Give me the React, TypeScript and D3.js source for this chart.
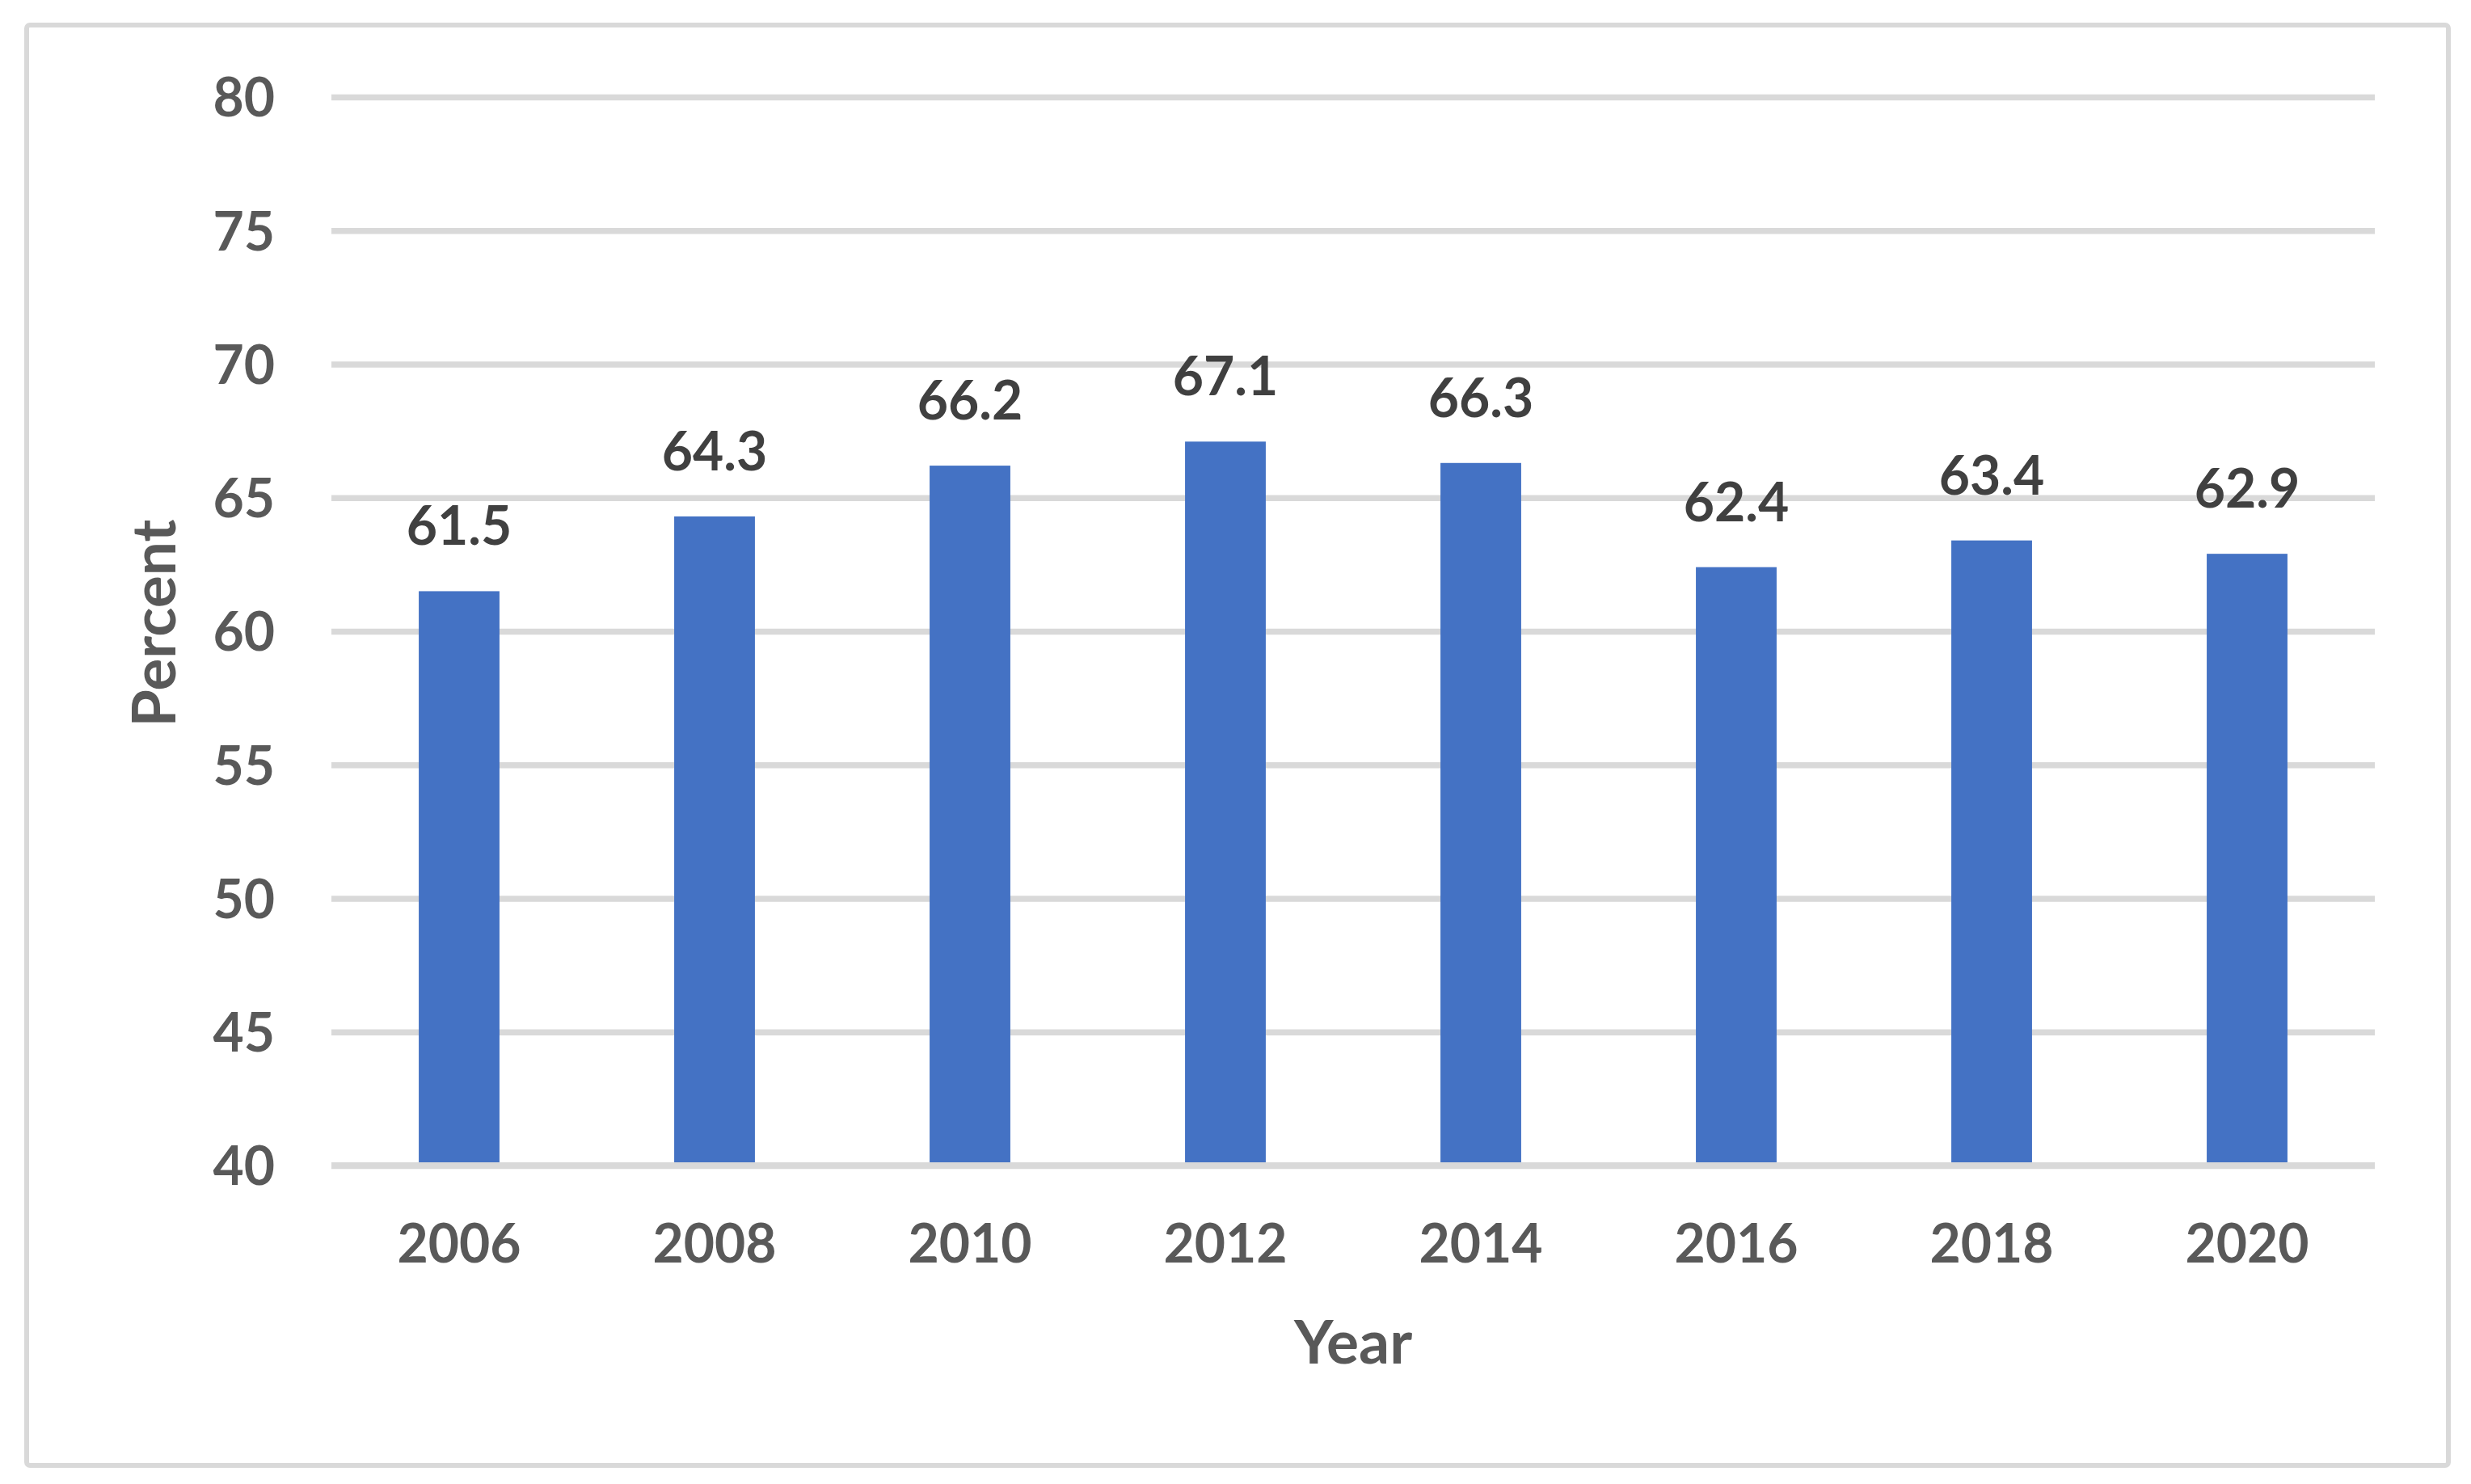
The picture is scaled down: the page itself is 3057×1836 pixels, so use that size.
import { useEffect, useRef } from 'react'
import * as d3 from 'd3'

const years = ['2006', '2008', '2010', '2012', '2014', '2016', '2018', '2020']
const percent = [61.5, 64.3, 66.2, 67.1, 66.3, 62.4, 63.4, 62.9]
const yTicks = [40, 45, 50, 55, 60, 65, 70, 75, 80]

export default function App() {
  const ref = useRef<SVGSVGElement | null>(null)
  useEffect(() => {
    if (!ref.current) return
    const svg = d3.select(ref.current)
    svg.selectAll('*').remove()
    const width = 3057
    const height = 1836
    const margin = { top: 120, right: 119, bottom: 394, left: 410 }
    const font = 'Lato, "Open Sans", sans-serif'

    svg.append('rect').attr('width', width).attr('height', height).attr('fill', '#fff')
    svg
      .append('rect')
      .attr('x', 33)
      .attr('y', 31)
      .attr('width', 2996)
      .attr('height', 1782)
      .attr('rx', 4)
      .attr('fill', 'none')
      .attr('stroke', '#d9d9d9')
      .attr('stroke-width', 6)

    const x = d3
      .scaleBand()
      .domain(years)
      .range([margin.left, width - margin.right])
      .paddingInner(0.684)
      .paddingOuter(0.342)
    const y = d3
      .scaleLinear()
      .domain([40, 80])
      .range([height - margin.bottom, margin.top])

    // y axis with gridlines
    const yAxis = svg
      .append('g')
      .attr('transform', `translate(${margin.left},0)`)
      .call(
        d3
          .axisLeft(y)
          .tickValues(yTicks)
          .tickSize(-(width - margin.left - margin.right))
          .tickPadding(70)
      )
    yAxis.select('.domain').remove()
    yAxis.selectAll('line').attr('stroke', '#d9d9d9').attr('stroke-width', 7.5)
    yAxis
      .selectAll('text')
      .attr('dy', '0.36em')
      .attr('fill', '#595959')
      .style('font-family', font)
      .style('font-weight', 700)
      .style('font-size', '66px')

    svg
      .append('g')
      .selectAll('rect')
      .data(percent)
      .enter()
      .append('rect')
      .attr('x', (_, i) => x(years[i])!)
      .attr('y', (d) => y(d))
      .attr('width', x.bandwidth())
      .attr('height', (d) => y(40) - y(d))
      .attr('fill', '#4472c4')

    // baseline on top of the bars
    svg
      .append('line')
      .attr('x1', margin.left)
      .attr('x2', width - margin.right)
      .attr('y1', y(40))
      .attr('y2', y(40))
      .attr('stroke', '#d9d9d9')
      .attr('stroke-width', 8)

    svg
      .append('g')
      .selectAll('text')
      .data(percent)
      .enter()
      .append('text')
      .attr('x', (_, i) => x(years[i])! + x.bandwidth() / 2)
      .attr('y', (d) => y(d) - 57)
      .attr('text-anchor', 'middle')
      .attr('fill', '#404040')
      .style('font-family', font)
      .style('font-weight', 700)
      .style('font-size', '66px')
      .text((d) => d.toFixed(1))

    const xAxis = svg
      .append('g')
      .attr('transform', `translate(0,${height - margin.bottom})`)
      .call(d3.axisBottom(x).tickSize(0))
    xAxis.select('.domain').remove()
    xAxis
      .selectAll('text')
      .attr('y', 120)
      .attr('dy', 0)
      .attr('fill', '#595959')
      .style('font-family', font)
      .style('font-weight', 700)
      .style('font-size', '66px')

    svg
      .append('text')
      .attr('x', (margin.left + width - margin.right) / 2)
      .attr('y', 1687)
      .attr('text-anchor', 'middle')
      .attr('fill', '#595959')
      .style('font-family', font)
      .style('font-weight', 700)
      .style('font-size', '75px')
      .text('Year')

    svg
      .append('text')
      .attr('transform', `translate(217,771) rotate(-90)`)
      .attr('text-anchor', 'middle')
      .attr('fill', '#595959')
      .style('font-family', font)
      .style('font-weight', 700)
      .style('font-size', '75px')
      .text('Percent')
  }, [])
  return (
    <svg
      ref={ref}
      width={3057}
      height={1836}
      style={{ position: 'absolute', left: 0, top: 0 }}
    />
  )
}
